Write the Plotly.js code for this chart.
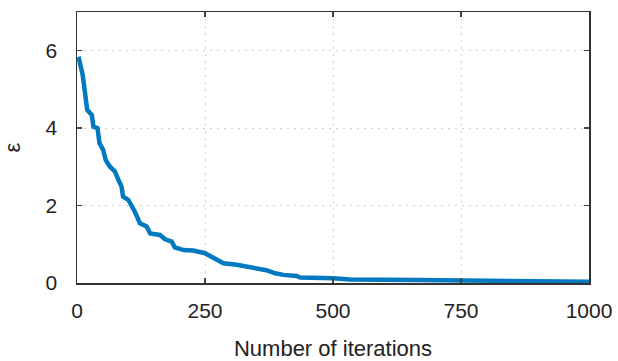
<!DOCTYPE html>
<html>
<head>
<meta charset="utf-8">
<script src="https://cdn.plot.ly/plotly-3.0.1.min.js"></script>
<style>html,body{margin:0;padding:0;background:#fff;}#chart{width:618px;height:361px;}</style>
</head>
<body>
<div id="chart"></div>
<script>
const iterations = [0, 4, 11, 16, 20, 29, 32, 40, 44, 51, 56, 64, 74, 81, 87, 90, 100, 113, 123, 136, 143, 162, 172, 185, 191, 208, 227, 250, 266, 286, 312, 338, 357, 370, 387, 403, 429, 436, 501, 533, 663, 793, 1000];
const epsilon = [5.75, 5.78, 5.38, 4.9, 4.47, 4.34, 4.04, 4.0, 3.61, 3.44, 3.18, 3.01, 2.88, 2.66, 2.49, 2.23, 2.15, 1.84, 1.54, 1.46, 1.28, 1.24, 1.13, 1.07, 0.92, 0.85, 0.84, 0.77, 0.66, 0.51, 0.47, 0.41, 0.35, 0.33, 0.25, 0.21, 0.18, 0.14, 0.12, 0.09, 0.08, 0.06, 0.03];
const xTicks = [0, 250, 500, 750, 1000];
const yTicks = [0, 2, 4, 6];

const fontFam = 'Liberation Sans, Arial, sans-serif';
const trace = {
  x: iterations, y: epsilon, type: 'scatter', mode: 'lines',
  line: {color: '#0079C1', width: 4.5},
  hoverinfo: 'skip'
};
const axisCommon = {
  showline: true, linecolor: '#333', linewidth: 1.5, mirror: 'ticks',
  ticks: 'inside', ticklen: 5, tickwidth: 1.5, tickcolor: '#444',
  showgrid: true, gridcolor: '#cfcfcf', griddash: '1.5px,5.5px', gridwidth: 1,
  zeroline: false,
  tickfont: {family: fontFam, size: 21, color: '#222'}
};
const layout = {
  width: 618, height: 361,
  margin: {l: 77, r: 29, t: 12, b: 78},
  paper_bgcolor: '#fff', plot_bgcolor: '#fff',
  showlegend: false,
  xaxis: Object.assign({}, axisCommon, {
    range: [0, 1000], tickvals: xTicks, ticktext: xTicks.map(String),
    ticklabelstandoff: 8,
    title: {text: 'Number of iterations', font: {family: fontFam, size: 22, color: '#222'}, standoff: 20}
  }),
  yaxis: Object.assign({}, axisCommon, {
    range: [0, 7], tickvals: yTicks, ticktext: yTicks.map(String),
    ticklabelstandoff: 14,
    title: {text: 'ε', font: {family: fontFam, size: 22, color: '#222'}, standoff: 22}
  })
};
Plotly.newPlot('chart', [trace], layout, {staticPlot: true, displayModeBar: false});
</script>
</body>
</html>
